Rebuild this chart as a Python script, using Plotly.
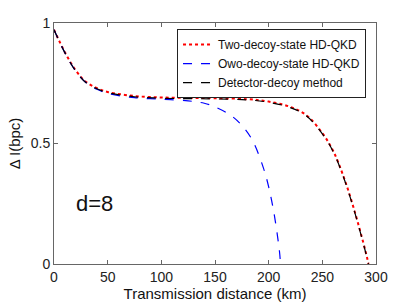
import plotly.graph_objects as go

# Data
x_two = [0, 10, 20, 30, 40, 50, 75, 100, 125, 150, 180, 200, 220, 235, 250, 260, 270, 280, 290, 293]
y_two = [0.972, 0.88, 0.805, 0.755, 0.73, 0.714, 0.697, 0.691, 0.689, 0.688, 0.684, 0.674, 0.652, 0.618, 0.543, 0.47, 0.36, 0.22, 0.057, 0.0]

x_det = x_two
y_det = [0.972, 0.878, 0.802, 0.752, 0.727, 0.711, 0.694, 0.688, 0.686, 0.685, 0.681, 0.671, 0.649, 0.615, 0.54, 0.467, 0.357, 0.217, 0.054, 0.0]

x_owo = [0, 10, 20, 30, 40, 50, 75, 100, 125, 140, 150, 165, 175, 185, 195, 200, 205, 210, 211]
y_owo = [0.972, 0.878, 0.802, 0.752, 0.725, 0.708, 0.69, 0.684, 0.677, 0.667, 0.652, 0.616, 0.575, 0.512, 0.40, 0.32, 0.21, 0.055, 0.0]

names = ["Two-decoy-state HD-QKD", "Owo-decoy-state HD-QKD", "Detector-decoy method"]
x_ticks = [0, 50, 100, 150, 200, 250, 300]
y_ticks = [0, 0.5, 1]
y_tick_text = ["0", "0.5", "1"]

fig = go.Figure()
fig.add_trace(go.Scatter(x=x_two, y=y_two, mode="lines", name=names[0],
                         line=dict(color="#ff0000", width=2, dash="dot", shape="spline")))
fig.add_trace(go.Scatter(x=x_owo, y=y_owo, mode="lines", name=names[1],
                         line=dict(color="#0000ff", width=1.2, dash="dash", shape="spline")))
fig.add_trace(go.Scatter(x=x_det, y=y_det, mode="lines", name=names[2],
                         line=dict(color="#000000", width=1.2, dash="dash", shape="spline")))

axis_common = dict(showgrid=False, zeroline=False, showline=True, mirror="ticks",
                   linecolor="#666666", linewidth=1, ticks="inside", ticklen=4,
                   tickcolor="#666666", tickfont=dict(size=14, color="#222222"),
                   automargin=False)

fig.update_layout(
    width=415, height=307,
    margin=dict(l=54, r=39, t=23, b=43, autoexpand=False),
    paper_bgcolor="white", plot_bgcolor="white",
    font=dict(family="Liberation Sans, Arial, sans-serif", color="#111111"),
    xaxis=dict(range=[0, 300], tickvals=x_ticks, **axis_common,
               title=dict(text="Transmission distance (km)", font=dict(size=15), standoff=2)),
    yaxis=dict(range=[0, 1], tickvals=y_ticks, ticktext=y_tick_text, **axis_common,
               title=dict(text="Δ I(bpc)", font=dict(size=15), standoff=6)),
    legend=dict(x=0.969, y=0.975, xanchor="right", yanchor="top",
                bgcolor="white", bordercolor="#222222", borderwidth=1,
                font=dict(size=12, color="#111111"), tracegroupgap=0,
                itemwidth=30),
    showlegend=True,
    annotations=[dict(x=38, y=0.253, xref="x", yref="y", text="d=8", showarrow=False,
                      font=dict(size=22, color="#111111"))],
)

fig.write_html("out.html", config={"displayModeBar": False},
               post_script="document.body.style.margin='0';document.body.style.overflow='hidden';")
